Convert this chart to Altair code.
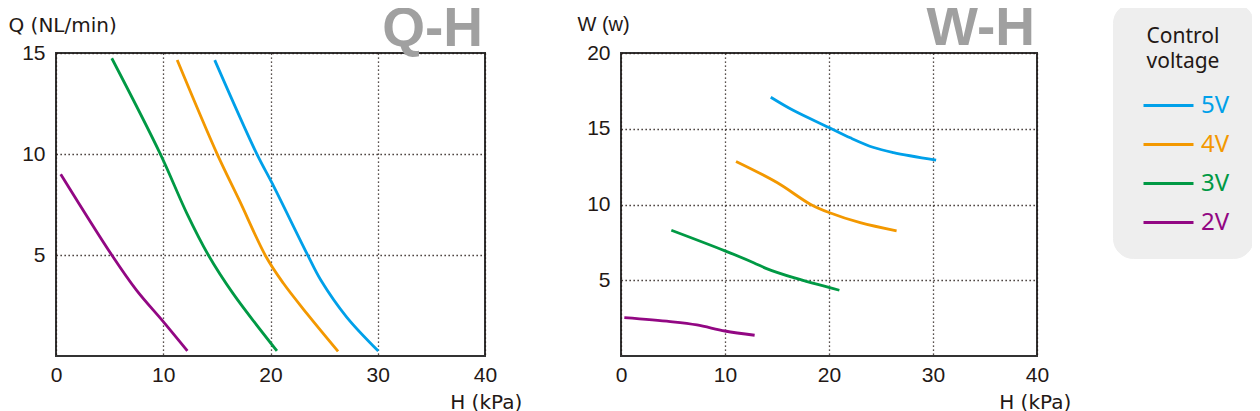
import altair as alt
import pandas as pd

series = ["5V", "4V", "3V", "2V"]
colors = ["#00a0e9", "#f39800", "#009944", "#920783"]

# Q-H curves (H in kPa, Q in NL/min)
qh_h = {
    "5V": [14.8, 18.7, 20.3, 23.4, 24.7, 27.1, 30.05],
    "4V": [11.3, 15.0, 17.1, 19.6, 21.2, 23.4, 26.3],
    "3V": [5.2, 9.7, 12.2, 14.2, 16.5, 20.6],
    "2V": [0.44, 5.2, 7.5, 10.0, 12.25],
}
qh_q = {
    "5V": [14.65, 10.03, 8.4, 5.07, 3.75, 1.93, 0.25],
    "4V": [14.65, 10.03, 7.7, 4.9, 3.6, 2.1, 0.23],
    "3V": [14.74, 10.03, 7.06, 5.0, 3.1, 0.25],
    "2V": [9.0, 5.0, 3.26, 1.7, 0.25],
}

# W-H curves (H in kPa, W in watts)
wh_h = {
    "5V": [14.4, 16.6, 20.0, 22.05, 24.3, 26.2, 30.3],
    "4V": [11.06, 15.0, 18.2, 20.0, 23.0, 26.5],
    "3V": [4.84, 10.0, 12.75, 14.0, 16.6, 21.0],
    "2V": [0.32, 4.74, 7.3, 10.0, 12.85],
}
wh_w = {
    "5V": [17.08, 16.2, 15.08, 14.4, 13.76, 13.43, 12.93],
    "4V": [12.84, 11.45, 10.02, 9.47, 8.8, 8.26],
    "3V": [8.3, 6.94, 6.16, 5.77, 5.17, 4.34],
    "2V": [2.53, 2.27, 2.05, 1.65, 1.37],
}

x_ticks = [0, 10, 20, 30, 40]
q_ticks = [5, 10, 15]
w_ticks = [5, 10, 15, 20]


def long_df(hs, vs):
    rows = []
    for s in series:
        for i, (h, v) in enumerate(zip(hs[s], vs[s])):
            rows.append({"V": s, "H": h, "val": v, "i": i})
    return pd.DataFrame(rows)


TXT = "#231815"
FONT = "Liberation Sans"

color_expr = " : ".join(f"datum.value == '{s}' ? '{c}'" for s, c in zip(series, colors)) + " : '#000'"

legend = alt.Legend(
    orient="none",
    legendX=1057,
    legendY=-50,
    title=["Control", "voltage"],
    titleFont="Noto Sans",
    titleFontSize=21,
    titleFontWeight="normal",
    titleColor=TXT,
    titleAnchor="middle",
    titleAlign="center",
    titleLineHeight=25,
    titlePadding=7,
    symbolType="stroke",
    symbolSize=2500,
    symbolStrokeWidth=3,
    symbolOffset=6,
    labelFont="Noto Sans",
    labelFontSize=24,
    labelOffset=6,
    labelColor={"expr": color_expr},
    rowPadding=-8.5,
    padding=23,
    fillColor="#eeeeee",
    cornerRadius=20,
    strokeColor="#eeeeee",
)


def panel(df, ydomain, yticks, ytitle, ytitle_font, ytitle_x, ytitle_y, title, width, xtitle_x):
    return (
        alt.Chart(df)
        .mark_line(strokeWidth=2.8, interpolate="catmull-rom")
        .encode(
            x=alt.X(
                "H:Q",
                scale=alt.Scale(domain=[0, 40], nice=False, zero=False),
                axis=alt.Axis(
                    values=x_ticks,
                    title="H (kPa)",
                    titleFont="DejaVu Sans",
                    titleFontSize=20,
                    titleAlign="right",
                    titleAnchor="start",
                    titleX=xtitle_x,
                    titleY=52,
                    titleBaseline="alphabetic",
                    labelPadding=8,
                    labelFlush=False,
                ),
            ),
            y=alt.Y(
                "val:Q",
                scale=alt.Scale(domain=ydomain, nice=False),
                axis=alt.Axis(
                    values=yticks,
                    title=ytitle,
                    titleFont=ytitle_font,
                    titleFontSize=20,
                    titleAngle=0,
                    titleAlign="left",
                    titleAnchor="start",
                    titleBaseline="alphabetic",
                    titleX=ytitle_x,
                    titleY=ytitle_y,
                    labelPadding=11,
                    labelFlush=False,
                ),
            ),
            color=alt.Color("V:N", scale=alt.Scale(domain=series, range=colors), legend=legend),
            order="i:Q",
        )
        .properties(
            width=width,
            height=303,
            title=alt.TitleParams(
                title,
                anchor="end",
                frame="group",
                fontSize=55,
                font=FONT,
                fontWeight="bold",
                color="#a0a0a0",
                baseline="alphabetic",
                offset=-85,
                dx=-2,
            ),
        )
    )


left = panel(long_df(qh_h, qh_q), [0, 15], q_ticks, "Q (NL/min)", "DejaVu Sans", -48, -21.5, "Q-H", 429, 465.7)
right = panel(long_df(wh_h, wh_w), [0, 20], w_ticks, "W (w)", FONT, -44, -22.3, "W-H", 416, 449.7)

chart = (
    alt.hconcat(left, right, spacing=136, bounds="flush")
    .properties(
        autosize=alt.AutoSizeParams(type="none"),
        padding={"top": 45, "left": 48, "right": 1196, "bottom": 358},
    )
    .configure_view(stroke="#333333", strokeWidth=2)
    .configure_axis(
        domain=False,
        ticks=False,
        grid=True,
        gridColor=TXT,
        gridDash=[1.3, 2.7],
        gridWidth=1.3,
        labelFont=FONT,
        labelFontSize=21,
        labelColor=TXT,
        titleFont=FONT,
        titleFontSize=20,
        titleFontWeight="normal",
        titleColor=TXT,
        labelOverlap=False,
    )
)

chart.save("out.html", embed_options={"renderer": "svg", "actions": False})
